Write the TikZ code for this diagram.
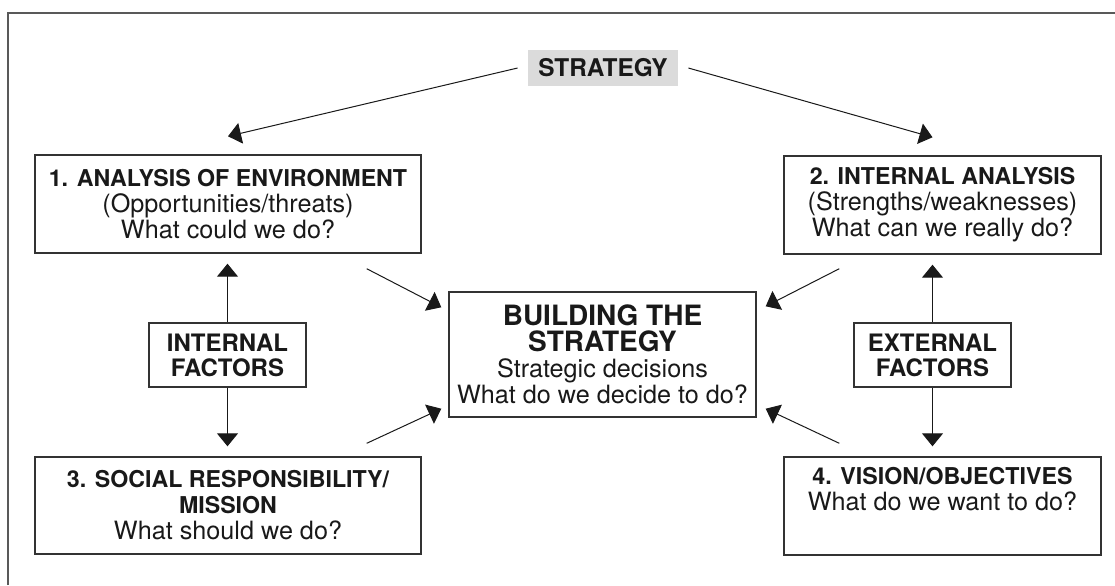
\documentclass[tikz,border=0pt]{standalone}
\usepackage{fontspec}
\setmainfont{TeX Gyre Heros}
\usetikzlibrary{arrows.meta,positioning}

\newcommand\hd[1]{{\fontsize{11.6}{13}\selectfont\bfseries #1}}

\begin{document}
\begin{tikzpicture}[x=0.5pt,y=-0.5pt,>={Triangle[length=6.5pt,width=10.5pt]},
  font=\fontsize{12.6}{13}\selectfont,text=black!90,
  m/.style={draw=black!80,line width=0.7pt,align=center,inner sep=0pt},
  fac/.style={m,font=\fontsize{12}{12.5}\selectfont\bfseries,minimum width=78.5pt,minimum height=32pt},
  ar/.style={->,line width=0.5pt,black!90}]
\useasboundingbox (0,0) rectangle (1115,585);
\draw[black!65,line width=0.8pt] (8,585) -- (8,13) -- (1115,13);

\node[fill=black!14,minimum width=75pt,minimum height=18pt,inner sep=0pt,
  font=\fontsize{12.2}{13}\selectfont\bfseries] (strat) at (603,68) {STRATEGY};
\node[m,minimum width=193pt,minimum height=49pt] (env) at (228,204)
  {\hd{1. ANALYSIS OF ENVIRONMENT}\\(Opportunities/threats)\\What could we do?};
\node[m,minimum width=158.5pt,minimum height=49pt] (int) at (942.5,205)
  {\hd{2. INTERNAL ANALYSIS}\\(Strengths/weaknesses)\\What can we really do?};
\node[m,minimum width=193pt,minimum height=48.5pt] (soc) at (228,505.5)
  {\hd{3. SOCIAL RESPONSIBILITY/}\\\hd{MISSION}\\What should we do?};
\node[m,minimum width=158.5pt,minimum height=49pt] (obj) at (942.5,506)
  {\hd{4. VISION/OBJECTIVES}\\What do we want to do?\\\strut};
\node[m,minimum width=153.5pt,minimum height=62.5pt] (build) at (602.5,354.5)
  {{\fontsize{14}{13}\selectfont\bfseries BUILDING THE}\\
   {\fontsize{14}{13}\selectfont\bfseries STRATEGY}\\Strategic decisions\\What do we decide to do?};
\node[fac] (intf) at (227.5,355) {INTERNAL\\FACTORS};
\node[fac] (extf) at (932.5,355) {EXTERNAL\\FACTORS};

\draw[ar] ([xshift=-5pt]strat.west) -- ([yshift=9pt]env.north);
\draw[ar] ([xshift=5pt]strat.east) -- ([xshift=-5pt,yshift=9pt]int.north);

\draw[ar] (intf.north) -- ([yshift=-5pt]intf.north |- env.south);
\draw[ar] (intf.south) -- ([yshift=5pt]intf.south |- soc.north);
\draw[ar] (extf.north) -- ([yshift=-5pt]extf.north |- int.south);
\draw[ar] (extf.south) -- ([yshift=5pt]extf.south |- obj.north);

\draw[ar] ([xshift=-27.5pt,yshift=-7.5pt]env.south east) -- ([xshift=-3.5pt,yshift=-8pt]build.north west);
\draw[ar] ([xshift=-27.5pt,yshift=6.5pt]soc.north east) -- ([xshift=-3.5pt,yshift=4.5pt]build.south west);
\draw[ar] ([xshift=28pt,yshift=-7pt]int.south west) -- ([xshift=4.5pt,yshift=-7.5pt]build.north east);
\draw[ar] ([xshift=28pt,yshift=6.5pt]obj.north west) -- ([xshift=4.5pt,yshift=4.5pt]build.south east);
\end{tikzpicture}
\end{document}
